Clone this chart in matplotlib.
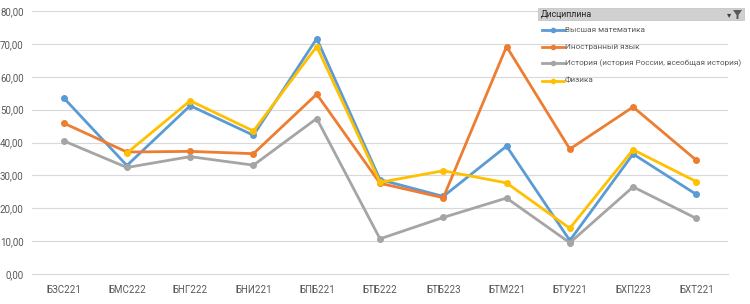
import numpy as np
import matplotlib.pyplot as plt
from matplotlib.lines import Line2D
from matplotlib.patches import Rectangle, Polygon

plt.rcParams['font.family'] = ['Roboto', 'DejaVu Sans']

# DATA
groups = ['БЗС221', 'БМС222', 'БНГ222', 'БНИ221', 'БПБ221', 'БТБ222',
          'БТБ223', 'БТМ221', 'БТУ221', 'БХП223', 'БХТ221']
series_names = ['Высшая математика', 'Иностранный язык',
                'История (история России, всеобщая история)', 'Физика']
math_vals = [53.6, 33.0, 51.2, 42.2, 71.6, 28.7, 23.6, 38.9, 10.2, 36.5, 24.2]
lang_vals = [45.9, 37.1, 37.3, 36.6, 54.7, 27.6, 23.2, 69.2, 38.0, 50.8, 34.6]
hist_vals = [40.5, 32.4, 35.7, 33.1, 47.3, 10.7, 17.2, 23.1, 9.5, 26.5, 16.9]
phys_vals = [np.nan, 36.8, 52.7, 43.5, 69.2, 27.9, 31.4, 27.7, 13.9, 37.8, 28.1]
colors = ['#5B9BD5', '#ED7D31', '#A5A5A5', '#FFC000']

fig = plt.figure(figsize=(7.5, 3.04), dpi=100)
ax = fig.add_axes([32 / 750, 1 - 274 / 304, (728 - 32) / 750, (274 - 11) / 304])

x = np.arange(len(groups))
for vals, c in zip([math_vals, lang_vals, hist_vals, phys_vals], colors):
    ax.plot(x, vals, color=c, lw=2.0, marker='o', ms=4, zorder=3)

ax.set_xlim(-0.5, len(groups) - 0.5)
ax.set_ylim(0, 80)
ax.set_yticks(np.arange(0, 81, 10))
ax.set_yticklabels([f'{v:.2f}'.replace('.', ',') for v in np.arange(0, 81, 10)])
ax.set_xticks(x)
ax.set_xticklabels(groups)
ax.tick_params(length=0, labelsize=7, colors='#595959', pad=8)
ax.tick_params(axis='y', pad=6)
ax.grid(axis='y', color='#D9D9D9', lw=0.8)
ax.set_axisbelow(True)
for s in ['top', 'right', 'left']:
    ax.spines[s].set_visible(False)
ax.spines['bottom'].set_color('#D9D9D9')

# legend block (Excel pivot-chart style)
W, H = 750, 304
fig.add_artist(Rectangle((538 / W, 1 - 20 / H), (744 - 538) / W, 12 / H,
                         transform=fig.transFigure, facecolor='#D0D0D0',
                         edgecolor='#BFBFBF', lw=0.5))
fig.text(541 / W, 1 - 14.5 / H, 'Дисциплина', fontsize=6.3, color='#262626',
         va='center', ha='left')
fig.add_artist(Polygon([(733 / W, 1 - 10 / H), (742 / W, 1 - 10 / H),
                        (738.5 / W, 1 - 15 / H), (738.5 / W, 1 - 19 / H),
                        (736.5 / W, 1 - 19 / H), (736.5 / W, 1 - 15 / H)],
                       closed=True, transform=fig.transFigure,
                       facecolor='#595959', edgecolor='none'))
fig.text(729 / W, 1 - 15 / H, '▾', fontsize=6, color='#404040',
         va='center', ha='center')
rows = [29.5, 46.5, 63.5, 80.5]
labels = []
for name, c, yy in zip(series_names, colors, rows):
    fy = 1 - yy / H
    fig.add_artist(Line2D([542 / W, 564 / W], [fy, fy], color=c, lw=2,
                          transform=fig.transFigure))
    fig.add_artist(Line2D([553 / W], [fy], color=c, marker='o', ms=3,
                          transform=fig.transFigure))
    labels.append(fig.text(565 / W, fy, name, fontsize=6.6, color='#595959',
                           va='center', ha='left'))

# shrink legend text so the longest entry ends near x=741 px like the reference
r = fig.canvas.get_renderer()
widest = max(t.get_window_extent(r).width for t in labels)
scale = min(1.0, 175 / widest)
for t in labels:
    t.set_fontsize(6.6 * scale)

fig.savefig('out.png', dpi=100)
